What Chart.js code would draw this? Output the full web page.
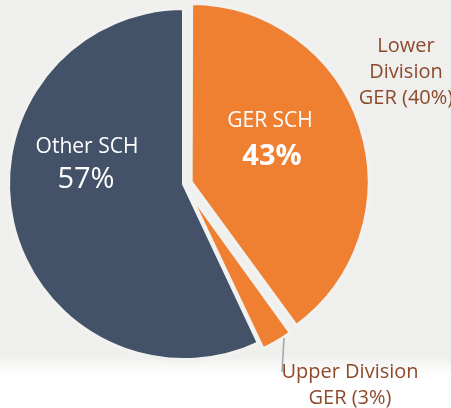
<!DOCTYPE html>
<html>
<head>
<meta charset="utf-8">
<script src="https://cdn.jsdelivr.net/npm/chart.js@4"></script>
<style>
  html, body { margin: 0; padding: 0; }
  body {
    width: 451px; height: 408px; overflow: hidden;
    background: linear-gradient(#efefed 0px, #efefed 355px, #ffffff 375px);
  }
  #wrap { position: relative; width: 451px; height: 408px; }
</style>
</head>
<body>
<div id="wrap"><canvas id="myChart" width="451" height="408"></canvas></div>
<script>
const categories = ['Lower Division GER', 'Upper Division GER', 'Other SCH'];
const shares = [40, 3, 57];
const sliceColors = ['#ef7f31', '#ef7f31', '#435268'];
// arc offset is drawn at about half its value
const sliceOffsets = [28, 16, 0];

const outerLabels = [
    { lines: ['Lower', 'Division', 'GER (40%)'], x: 406, y: 52 },
    { lines: ['Upper Division', 'GER (3%)'], x: 350, y: 378 }
];

const fontFamily = '"Open Sans", "Noto Sans", sans-serif';
const brown = '#8d4a2b';

// inside labels + callouts, drawn after the pie
const labelPlugin = {
    id: 'labelPlugin',
    afterDraw(chart) {
        const c = chart.ctx;
        c.save();
        c.textAlign = 'center';
        c.textBaseline = 'alphabetic';

        c.fillStyle = '#ffffff';
        c.font = '21px ' + fontFamily;
        c.fillText('GER SCH', 270, 127);
        c.font = 'bold 29px ' + fontFamily;
        c.fillText('43%', 272, 165);

        c.font = '21px ' + fontFamily;
        c.fillText('Other SCH', 87, 153);
        c.font = '29px ' + fontFamily;
        c.fillText('57%', 86, 188);

        c.fillStyle = brown;
        c.font = '20px ' + fontFamily;
        outerLabels.forEach(l => {
            l.lines.forEach((t, i) => c.fillText(t, l.x, l.y + i * 26));
        });

        // leader line to the small slice
        c.strokeStyle = '#a3a3a3';
        c.lineWidth = 1.5;
        c.beginPath();
        c.moveTo(284, 338);
        c.lineTo(282, 372);
        c.stroke();
        c.restore();
    }
};

const ctx = document.getElementById('myChart').getContext('2d');

const chart = new Chart(ctx, {
    type: 'pie',
    data: {
        labels: categories,
        datasets: [{
            data: shares,
            backgroundColor: sliceColors,
            borderColor: '#f1f1ef',
            borderWidth: 4,
            offset: sliceOffsets
        }]
    },
    options: {
        responsive: false,
        animation: false,
        radius: 176,
        layout: { padding: { left: 0, top: 0, right: 83, bottom: 40 } },
        plugins: {
            legend: { display: false },
            tooltip: { enabled: false }
        }
    },
    plugins: [labelPlugin]
});
</script>
</body>
</html>
